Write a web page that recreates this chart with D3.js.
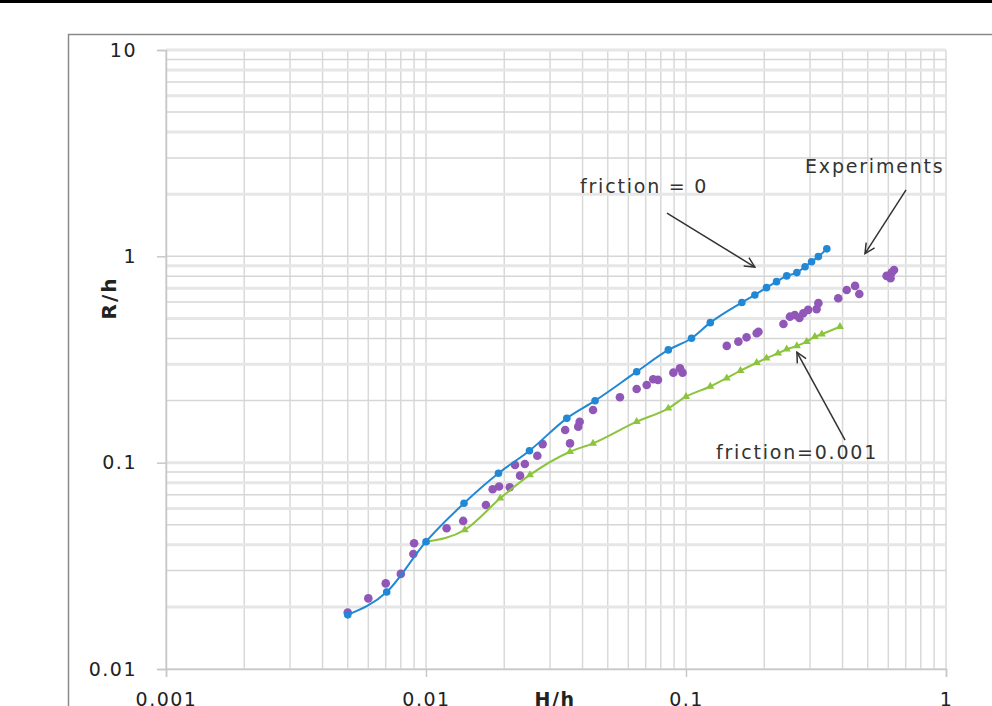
<!DOCTYPE html>
<html>
<head>
<meta charset="utf-8">
<script src="https://cdn.jsdelivr.net/npm/d3@7"></script>
<style>
  body { margin: 0; background: #fff; }
  svg { display: block; font-family: "DejaVu Sans", sans-serif; }
</style>
</head>
<body>
<svg id="chart" width="992" height="706"></svg>
<script>
// friction = 0 (blue, circles)
const frictionZeroH = [0.005, 0.00706, 0.01, 0.014, 0.019, 0.025, 0.0348, 0.0447, 0.0646, 0.0855, 0.105, 0.124, 0.164, 0.184, 0.204, 0.223, 0.244, 0.267, 0.287, 0.304, 0.323, 0.348];
const frictionZeroR = [0.0183, 0.0236, 0.0414, 0.0636, 0.0889, 0.1143, 0.164, 0.1997, 0.276, 0.352, 0.401, 0.477, 0.597, 0.65, 0.705, 0.754, 0.804, 0.834, 0.891, 0.942, 0.997, 1.087];

// friction = 0.001 (green, triangles)
const frictionSmallH = [0.01, 0.0141, 0.0193, 0.0251, 0.0358, 0.0439, 0.0646, 0.0855, 0.1, 0.124, 0.1435, 0.162, 0.187, 0.204, 0.226, 0.244, 0.267, 0.291, 0.313, 0.333, 0.391];
const frictionSmallR = [0.0414, 0.0472, 0.0672, 0.0872, 0.113, 0.124, 0.158, 0.1835, 0.209, 0.234, 0.257, 0.279, 0.305, 0.321, 0.339, 0.355, 0.368, 0.386, 0.408, 0.42, 0.456];

// experiments (purple dots)
const expH = [0.005, 0.006, 0.007, 0.008, 0.00894, 0.009, 0.012, 0.0139, 0.017, 0.01805, 0.0191, 0.021, 0.023, 0.022, 0.024, 0.0268, 0.0281, 0.0343, 0.0358, 0.0385, 0.039, 0.0439,
  0.0557, 0.0646, 0.0706, 0.0748, 0.078, 0.0894, 0.0948, 0.097, 0.1435, 0.159, 0.171, 0.187, 0.19, 0.237, 0.251, 0.262, 0.273, 0.2826, 0.295, 0.318, 0.323, 0.385, 0.415, 0.447, 0.464, 0.591, 0.612, 0.618, 0.631];
const expR = [0.0188, 0.022, 0.026, 0.0289, 0.0361, 0.0407, 0.0481, 0.0522, 0.0624, 0.0743, 0.0766, 0.076, 0.0865, 0.0975, 0.0986, 0.108, 0.123, 0.144, 0.124, 0.1495, 0.158, 0.18,
  0.2075, 0.2277, 0.238, 0.2536, 0.252, 0.273, 0.287, 0.273, 0.368, 0.386, 0.405, 0.424, 0.431, 0.47, 0.51, 0.52, 0.503, 0.53, 0.55, 0.555, 0.593, 0.626, 0.687, 0.719, 0.657, 0.804, 0.783, 0.834, 0.859];

const xTicks = [0.001, 0.01, 0.1, 1];
const yTicks = [0.01, 0.1, 1, 10];

// annotations: text anchor + arrow (from -> to), in data units
const notes = [
  {text: "friction = 0", tx: 0.0391, ty: 2.03, x1: 0.0845, y1: 1.62, x2: 0.184, y2: 0.887},
  {text: "Experiments", tx: 0.287, ty: 2.54, x1: 0.702, y1: 2.1, x2: 0.488, y2: 1.03},
  {text: "friction=0.001", tx: 0.1304, ty: 0.104, x1: 0.409, y1: 0.1287, x2: 0.267, y2: 0.343}
];

const svg = d3.select("#chart");
const margin = {top: 50, left: 166, right: 46, bottom: 37};
const width = 992 - margin.left - margin.right,
  height = 706 - margin.top - margin.bottom;

// top black bar and outer frame
svg.append("rect").attr("x", 0).attr("y", 0).attr("width", 992).attr("height", 3).attr("fill", "#000");
svg.append("rect").attr("x", 68.5).attr("y", 34.5).attr("width", 1000).attr("height", 700)
  .attr("fill", "none").attr("stroke", "#8a8a8a").attr("stroke-width", 1.5);

const x = d3.scaleLog().domain([0.001, 1]).range([0, width]);
const y = d3.scaleLog().domain([0.01, 10]).range([height, 0]);

const g = svg.append("g").attr("transform", `translate(${margin.left},${margin.top})`);

// grid: every 1..9 per decade
const xGrid = x.ticks(), yGrid = y.ticks();
g.append("g").selectAll("line").data(xGrid).join("line")
  .attr("x1", d => x(d)).attr("x2", d => x(d)).attr("y1", 0).attr("y2", height)
  .attr("stroke", "#d9d9d9").attr("stroke-width", 1.5);
g.append("g").selectAll("line").data(yGrid).join("line")
  .attr("x1", 0).attr("x2", width).attr("y1", d => y(d)).attr("y2", d => y(d))
  .attr("stroke", (d, i) => i % 2 ? "#e6e6e6" : "#d6d6d6").attr("stroke-width", (d, i) => i % 2 ? 3 : 1.5);

// axes
const xAxis = g.append("g").attr("transform", `translate(0,${height})`)
  .call(d3.axisBottom(x).tickValues(xTicks).tickFormat(d3.format("~g")).tickSize(8).tickPadding(16));
const yAxis = g.append("g")
  .call(d3.axisLeft(y).tickValues(yTicks).tickFormat(d3.format("~g")).tickSize(9).tickPadding(20));
[xAxis, yAxis].forEach(a => {
  a.select(".domain").attr("stroke", "#c8c8c8").attr("stroke-width", 1.5);
  a.selectAll(".tick line").attr("stroke", "#c8c8c8").attr("stroke-width", 1.5);
  a.selectAll("text").attr("font-size", 19).attr("letter-spacing", 1.5).attr("fill", "#222")
    .attr("font-family", "DejaVu Sans, sans-serif");
});

// axis titles
g.append("text").attr("x", 389).attr("y", height + 37).attr("text-anchor", "middle")
  .attr("font-size", 19).attr("font-weight", "bold").attr("letter-spacing", 1.5).attr("fill", "#222").text("H/h");
g.append("text").attr("transform", `translate(-50,248) rotate(-90)`).attr("text-anchor", "middle")
  .attr("font-size", 20).attr("font-weight", "bold").attr("letter-spacing", 2).attr("fill", "#222").text("R/h");

// series
const blue = "#2188d6", green = "#8cc43e", purple = "#9157b8";
const zeroPts = frictionZeroH.map((h, i) => [h, frictionZeroR[i]]);
const smallPts = frictionSmallH.map((h, i) => [h, frictionSmallR[i]]);
const expPts = expH.map((h, i) => [h, expR[i]]);
const line = d3.line().x(d => x(d[0])).y(d => y(d[1])).curve(d3.curveMonotoneX);

g.append("g").selectAll("circle").data(expPts).join("circle")
  .attr("cx", d => x(d[0])).attr("cy", d => y(d[1])).attr("r", 4.3).attr("fill", purple);

g.append("path").datum(smallPts).attr("d", line).attr("fill", "none").attr("stroke", green).attr("stroke-width", 2);
g.append("g").selectAll("path").data(smallPts).join("path")
  .attr("transform", d => `translate(${x(d[0])},${y(d[1])})`)
  .attr("d", d3.symbol(d3.symbolTriangle, 28)).attr("fill", green);

g.append("path").datum(zeroPts).attr("d", line).attr("fill", "none").attr("stroke", blue).attr("stroke-width", 2);
g.append("g").selectAll("circle").data(zeroPts).join("circle")
  .attr("cx", d => x(d[0])).attr("cy", d => y(d[1])).attr("r", 3.8).attr("fill", blue);

// annotations
svg.append("defs").append("marker").attr("id", "arrow")
  .attr("viewBox", "0 0 12 12").attr("refX", 11).attr("refY", 6)
  .attr("markerWidth", 12).attr("markerHeight", 12).attr("markerUnits", "userSpaceOnUse")
  .attr("orient", "auto")
  .append("path").attr("d", "M1,1 L11,6 L1,11").attr("fill", "none").attr("stroke", "#333").attr("stroke-width", 1.5);

notes.forEach(n => {
  g.append("text").attr("x", x(n.tx)).attr("y", y(n.ty)).attr("font-size", 19).attr("letter-spacing", 1.8)
    .attr("fill", "#333").text(n.text);
  g.append("line").attr("x1", x(n.x1)).attr("y1", y(n.y1)).attr("x2", x(n.x2)).attr("y2", y(n.y2))
    .attr("stroke", "#333").attr("stroke-width", 1.5).attr("marker-end", "url(#arrow)");
});
</script>
</body>
</html>
